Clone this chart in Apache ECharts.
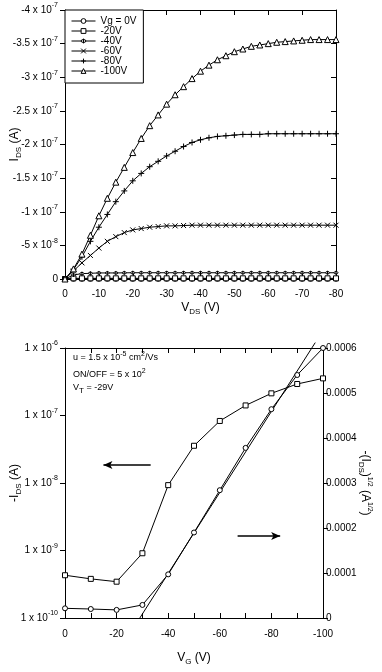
<!DOCTYPE html>
<html>
<head>
<meta charset="utf-8">
<script src="https://cdn.jsdelivr.net/npm/echarts@6/dist/echarts.min.js"></script>
<style>
html, body { margin: 0; padding: 0; background: #fff; }
#fet-chart { width: 382px; height: 672px; }
</style>
</head>
<body>
<div id="fet-chart"></div>
<script>
/* ........................ data (top: output curves, I_DS in 1e-7 A) ........................ */
const vds = [0, -2.5, -5, -7.5, -10, -12.5, -15, -17.5, -20, -22.5, -25, -27.5, -30, -32.5, -35, -37.5, -40,
  -42.5, -45, -47.5, -50, -52.5, -55, -57.5, -60, -62.5, -65, -67.5, -70, -72.5, -75, -77.5, -80];

const idsVg0 = [0, -0.003, -0.003, -0.003, -0.003, -0.003, -0.003, -0.003, -0.003, -0.003, -0.003, -0.003, -0.003,
  -0.003, -0.003, -0.003, -0.003, -0.003, -0.003, -0.003, -0.003, -0.003, -0.003, -0.003, -0.003, -0.003, -0.003,
  -0.003, -0.003, -0.003, -0.003, -0.003, -0.003];
const idsVg20 = [0, -0.01, -0.01, -0.01, -0.01, -0.01, -0.01, -0.01, -0.01, -0.01, -0.01, -0.01, -0.01, -0.01,
  -0.01, -0.01, -0.01, -0.01, -0.01, -0.01, -0.01, -0.01, -0.01, -0.01, -0.01, -0.01, -0.01, -0.01, -0.01, -0.01,
  -0.01, -0.01, -0.01];
const idsVg40 = [0, -0.06, -0.08, -0.085, -0.09, -0.09, -0.09, -0.092, -0.093, -0.093, -0.093, -0.093, -0.093,
  -0.093, -0.093, -0.093, -0.093, -0.093, -0.093, -0.093, -0.093, -0.093, -0.093, -0.093, -0.093, -0.093, -0.093,
  -0.093, -0.093, -0.093, -0.093, -0.093, -0.093];
const idsVg60 = [0, -0.12, -0.24, -0.35, -0.46, -0.56, -0.63, -0.69, -0.73, -0.75, -0.77, -0.78, -0.79, -0.79,
  -0.795, -0.8, -0.8, -0.8, -0.8, -0.8, -0.8, -0.8, -0.8, -0.8, -0.8, -0.8, -0.8, -0.8, -0.8, -0.8, -0.8, -0.8, -0.8];
const idsVg80 = [0, -0.14, -0.33, -0.56, -0.77, -0.96, -1.15, -1.31, -1.46, -1.57, -1.67, -1.75, -1.83, -1.9,
  -1.97, -2.03, -2.07, -2.1, -2.12, -2.13, -2.14, -2.15, -2.15, -2.15, -2.16, -2.16, -2.16, -2.16, -2.16, -2.16,
  -2.16, -2.16, -2.16];
const idsVg100 = [0, -0.15, -0.37, -0.65, -0.94, -1.2, -1.44, -1.66, -1.88, -2.09, -2.28, -2.44, -2.6, -2.74,
  -2.86, -2.98, -3.09, -3.18, -3.26, -3.32, -3.38, -3.42, -3.46, -3.48, -3.5, -3.52, -3.53, -3.54, -3.55, -3.56,
  -3.56, -3.56, -3.56];

/* ........................ data (bottom: transfer curve) ........................ */
const vg = [0, -10, -20, -30, -40, -50, -60, -70, -80, -90, -100];
const idsLog = [4.3e-10, 3.8e-10, 3.45e-10, 9.1e-10, 9.3e-9, 3.56e-8, 8.3e-8, 1.41e-7, 2.13e-7, 2.93e-7, 3.55e-7];
const idsSqrt = [2.15e-5, 2.0e-5, 1.8e-5, 2.9e-5, 9.7e-5, 1.9e-4, 2.84e-4, 3.78e-4, 4.64e-4, 5.4e-4, 6.0e-4];
const fitVg = [-29, -97];
const fitSqrt = [0, 6.12e-4];

/* ........................ helpers ........................ */
const FONT = 'Liberation Sans, Arial, sans-serif';
const rich = {
  sup: { fontSize: 7, verticalAlign: 'top', fontFamily: FONT, color: '#000' },
  sub: { fontSize: 8, verticalAlign: 'bottom', fontFamily: FONT, color: '#000' }
};
const pair = (xs, ys) => xs.map((x, i) => [x, ys[i]]);

// outline markers (drawn as paths so the stroke stays thin)
const SYM = {
  circle: 'path://M0,5A5,5,0,1,1,10,5A5,5,0,1,1,0,5Z',
  rect: 'path://M0,0L10,0L10,10L0,10Z',
  tri: 'path://M5,0L10,9L0,9Z',
  cross: 'path://M0,0L10,10M10,0L0,10',
  plus: 'path://M5,0L5,10M0,5L10,5',
  dot: 'path://M5,0L5,10M2,5A3,3,0,1,1,8,5A3,3,0,1,1,2,5Z'
};

function fmtTopY(v) {
  if (Math.abs(v) < 1e-9) return '0';
  if (Math.abs(v + 0.5) < 1e-9) return '-5 x 10{sup|-8}';
  return (Math.round(v * 10) / 10) + ' x 10{sup|-7}';
}
function fmtLogY(v) {
  return '1 x 10{sup|' + Math.round(Math.log10(v)) + '}';
}

const axisBase = {
  axisLine: { show: true, onZero: false, lineStyle: { color: '#000', width: 1 } },
  splitLine: { show: false },
  axisTick: { show: true, length: 5, lineStyle: { color: '#000' } },
  nameMoveOverlap: false,
  nameTextStyle: { fontSize: 12, fontFamily: FONT, color: '#000', lineHeight: 16, rich: rich }
};
const labelBase = { fontSize: 10, fontFamily: FONT, color: '#000', lineHeight: 16, rich: rich };
const markStyle = { color: '#fff', borderColor: '#000', borderWidth: 1 };

function outSeries(name, ys, symbol, size) {
  return {
    name: name, type: 'line', xAxisIndex: 0, yAxisIndex: 0,
    data: pair(vds, ys),
    symbol: symbol, symbolSize: size, showSymbol: true,
    lineStyle: { color: '#000', width: 1 },
    itemStyle: markStyle
  };
}

/* ........................ chart ........................ */
const myChart = echarts.init(document.getElementById('fet-chart'), null, { renderer: 'canvas' });

const option = {
  animation: false,
  backgroundColor: '#fff',
  grid: [
    { left: 65, top: 10, width: 271, height: 269, outerBoundsMode: 'none', containLabel: false },
    { left: 65, top: 348, width: 258, height: 270, outerBoundsMode: 'none', containLabel: false }
  ],
  legend: {
    left: 65, top: 10, orient: 'vertical',
    backgroundColor: '#fff', borderColor: '#000', borderWidth: 1,
    padding: [6, 7, 7, 6], itemGap: 0, itemWidth: 24, itemHeight: 6,
    itemStyle: { color: '#fff', borderColor: '#000', borderWidth: 1 },
    lineStyle: { color: '#000', width: 1 },
    textStyle: { fontSize: 10, fontFamily: FONT, color: '#000', lineHeight: 10 },
    data: ['Vg = 0V', '-20V', '-40V', '-60V', '-80V', '-100V']
  },
  xAxis: [
    Object.assign({}, axisBase, {
      gridIndex: 0, type: 'value', position: 'bottom', min: -80, max: 0, interval: 10, inverse: true,
      axisTick: Object.assign({}, axisBase.axisTick, { inside: true }),
      axisLabel: Object.assign({}, labelBase, { margin: 7 }),
      name: 'V{sub|DS} (V)', nameLocation: 'middle', nameGap: 21
    }),
    Object.assign({}, axisBase, {
      gridIndex: 0, type: 'value', position: 'top', min: -80, max: 0, interval: 10, inverse: true,
      axisTick: Object.assign({}, axisBase.axisTick, { inside: true }),
      axisLabel: { show: false }
    }),
    Object.assign({}, axisBase, {
      gridIndex: 1, type: 'value', position: 'bottom', min: -100, max: 0, interval: 10, inverse: true,
      axisTick: Object.assign({}, axisBase.axisTick, { inside: true }),
      axisLabel: Object.assign({}, labelBase, {
        margin: 8,
        formatter: v => (Math.round(v) % 20 === 0 ? String(v) : '')
      }),
      name: 'V{sub|G} (V)', nameLocation: 'middle', nameGap: 32
    }),
    Object.assign({}, axisBase, {
      gridIndex: 1, type: 'value', position: 'top', min: -100, max: 0, interval: 10, inverse: true,
      axisTick: Object.assign({}, axisBase.axisTick, { inside: true }),
      axisLabel: { show: false }
    })
  ],
  yAxis: [
    Object.assign({}, axisBase, {
      gridIndex: 0, type: 'value', position: 'left', min: -4, max: 0, interval: 0.5, inverse: true,
      axisLabel: Object.assign({}, labelBase, { margin: 7, formatter: fmtTopY }),
      name: 'I{sub|DS} (A)', nameLocation: 'middle', nameGap: 42, nameRotate: 90
    }),
    Object.assign({}, axisBase, {
      gridIndex: 0, type: 'value', position: 'right', min: -4, max: 0, interval: 0.5, inverse: true,
      axisTick: Object.assign({}, axisBase.axisTick, { inside: true }),
      axisLabel: { show: false }
    }),
    Object.assign({}, axisBase, {
      gridIndex: 1, type: 'log', logBase: 10, position: 'left', min: 1e-10, max: 1e-6,
      minorTick: { show: false },
      axisLabel: Object.assign({}, labelBase, { margin: 7, formatter: fmtLogY }),
      name: '-I{sub|DS} (A)', nameLocation: 'middle', nameGap: 42, nameRotate: 90
    }),
    Object.assign({}, axisBase, {
      gridIndex: 1, type: 'value', position: 'right', min: 0, max: 0.0006, interval: 0.0001,
      axisLabel: Object.assign({}, labelBase, {
        margin: 3,
        formatter: v => (v === 0 ? '0' : v.toFixed(4))
      }),
      name: '-(I{sub|DS}){sup|1/2} (A{sup|1/2})', nameLocation: 'middle', nameGap: 34, nameRotate: -90
    })
  ],
  graphic: [
    { type: 'text', left: 73, top: 351, style: { text: 'u = 1.5 x 10{sup|-5} cm{sup|2}/Vs', rich: rich, fontSize: 9, fontFamily: FONT, fill: '#000', lineHeight: 14 } },
    { type: 'text', left: 73, top: 368, style: { text: 'ON/OFF = 5 x 10{sup|2}', rich: rich, fontSize: 9, fontFamily: FONT, fill: '#000', lineHeight: 14 } },
    { type: 'text', left: 73, top: 381, style: { text: 'V{sub|T} = -29V', rich: rich, fontSize: 9, fontFamily: FONT, fill: '#000', lineHeight: 14 } }
  ],
  series: [
    outSeries('Vg = 0V', idsVg0, SYM.circle, 5),
    outSeries('-20V', idsVg20, SYM.rect, 5),
    outSeries('-40V', idsVg40, SYM.dot, 4),
    outSeries('-60V', idsVg60, SYM.cross, 5),
    outSeries('-80V', idsVg80, SYM.plus, 6),
    outSeries('-100V', idsVg100, SYM.tri, 6),
    {
      name: 'log', type: 'line', xAxisIndex: 2, yAxisIndex: 2,
      data: pair(vg, idsLog),
      symbol: SYM.rect, symbolSize: 5,
      lineStyle: { color: '#000', width: 1 },
      itemStyle: markStyle,
      markLine: {
        silent: true, symbol: ['none', 'arrow'], symbolSize: [6, 9],
        label: { show: false },
        lineStyle: { color: '#000', width: 1.5, type: 'solid' },
        data: [[{ coord: [-33.2, 1.85e-8] }, { coord: [-14.9, 1.85e-8] }]]
      }
    },
    {
      name: 'sqrt', type: 'line', xAxisIndex: 2, yAxisIndex: 3,
      data: pair(vg, idsSqrt),
      symbol: SYM.circle, symbolSize: 5,
      lineStyle: { color: '#000', width: 1 },
      itemStyle: markStyle,
      markLine: {
        silent: true, symbol: ['none', 'arrow'], symbolSize: [6, 9],
        label: { show: false },
        lineStyle: { color: '#000', width: 1.5, type: 'solid' },
        data: [[{ coord: [-66.9, 1.82e-4] }, { coord: [-83.4, 1.82e-4] }]]
      }
    },
    {
      name: 'fit', type: 'line', xAxisIndex: 2, yAxisIndex: 3,
      data: pair(fitVg, fitSqrt),
      symbol: 'none', clip: false,
      lineStyle: { color: '#000', width: 1 }
    }
  ]
};

myChart.setOption(option);
</script>
</body>
</html>
